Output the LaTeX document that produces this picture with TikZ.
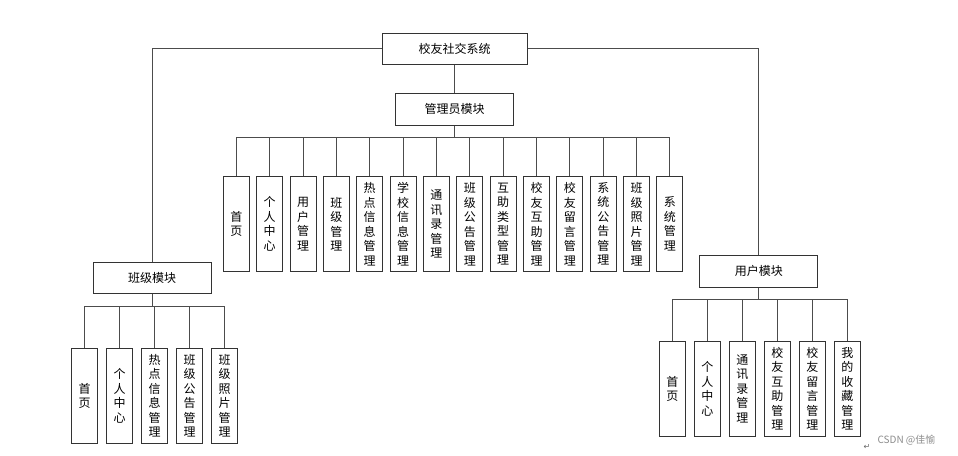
\documentclass[tikz,border=0pt]{standalone}
\usepackage{fontspec}
\setmainfont{Noto Sans CJK SC}
\newfontfamily\symfont{DejaVu Sans}

\begin{document}
\begin{tikzpicture}[x=1pt, y=-1pt,
	box/.style={draw=black!80, line width=1pt, fill=white, inner sep=0pt, font=\fontsize{12pt}{14.5pt}\selectfont},
	leaf/.style={box, minimum width=26pt, minimum height=95pt, align=center},
	link/.style={draw=black!70, line width=1pt}]
	%%%%% START %%%%%
	\useasboundingbox (0, 0) rectangle (958, 455);

	% top levels
	\node[box, minimum width=145pt, minimum height=31pt] (sys) at (454.5, 48.5) {校友社交系统};
	\node[box, minimum width=118pt, minimum height=32pt] (admin) at (454.5, 109.3) {管理员模块};
	\node[box, minimum width=118pt, minimum height=31pt] (cls) at (152, 278) {班级模块};
	\node[box, minimum width=118pt, minimum height=32pt] (usr) at (758.8, 271) {用户模块};

	\draw[link] (sys.south) -- (admin.north);
	\draw[link] (sys.west) -| (cls.north);
	\draw[link] (sys.east) -| (usr.north);

	% admin leaves
	\foreach \t [count=\i from 0] in {{首\\页}, {个\\人\\中\\心}, {用\\户\\管\\理}, {班\\级\\管\\理},
		{热\\点\\信\\息\\管\\理}, {学\\校\\信\\息\\管\\理}, {通\\讯\\录\\管\\理}, {班\\级\\公\\告\\管\\理},
		{互\\助\\类\\型\\管\\理}, {校\\友\\互\\助\\管\\理}, {校\\友\\留\\言\\管\\理}, {系\\统\\公\\告\\管\\理},
		{班\\级\\照\\片\\管\\理}, {系\\统\\管\\理}}{
		\node[leaf] (a\i) at (236.3 + 33.36*\i, 224) {\t};
		\draw[link] (admin.south) -- ++(0, 11.7) -| (a\i.north);
	}

	% class leaves
	\foreach \t [count=\i from 0] in {{首\\页}, {个\\人\\中\\心}, {热\\点\\信\\息\\管\\理},
		{班\\级\\公\\告\\管\\理}, {班\\级\\照\\片\\管\\理}}{
		\node[leaf] (c\i) at (84.7 + 35*\i, 395.8) {\t};
		\draw[link] (cls.south) -- ++(0, 12) -| (c\i.north);
	}

	% user leaves
	\foreach \t [count=\i from 0] in {{首\\页}, {个\\人\\中\\心}, {通\\讯\\录\\管\\理},
		{校\\友\\互\\助\\管\\理}, {校\\友\\留\\言\\管\\理}, {我\\的\\收\\藏\\管\\理}}{
		\node[leaf] (u\i) at (672.3 + 35*\i, 388.8) {\t};
		\draw[link] (usr.south) -- ++(0, 12.3) -| (u\i.north);
	}

	% watermark
	\node[text=black!60, font=\symfont\fontsize{8pt}{8pt}\selectfont] (ret) at (867, 447) {↵};
	\node[text=black!45, anchor=west, font=\fontsize{10pt}{12pt}\selectfont] (mark) at (874, 440) {CSDN @佳愉};
	%%%%% END %%%%%
\end{tikzpicture}
\end{document}
